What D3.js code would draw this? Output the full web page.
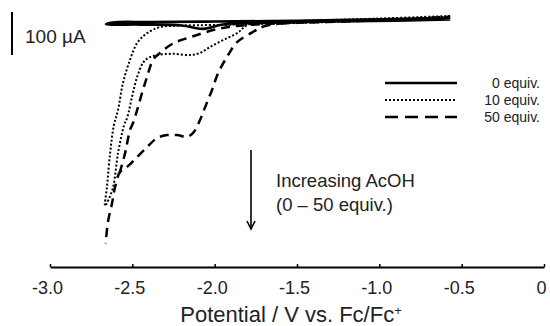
<!DOCTYPE html>
<html>
<head>
<meta charset="utf-8">
<script src="https://cdn.jsdelivr.net/npm/d3@7"></script>
<style>
  body { margin: 0; background: #fff; }
  text { font-family: "Liberation Sans", Arial, sans-serif; fill: #222; }
</style>
</head>
<body>
<div id="app"></div>
<script>
const W = 550, H = 326;

// potential (V vs Fc/Fc+), current (uA, cathodic negative)
const equiv0 = [
  [-0.57, 6], [-0.9, 3], [-1.3, 1], [-1.7, -2], [-1.95, -6], [-2.07, -16], [-2.2, -8],
  [-2.45, -6], [-2.66, -5], [-2.62, -1], [-2.4, 0], [-2.0, 1], [-1.5, 3], [-1.0, 6], [-0.57, 10]
];
const equiv10 = [
  [-0.57, 14], [-1.0, 8], [-1.5, 2], [-1.79, -5], [-1.864, -26], [-1.949, -42], [-2.028, -58],
  [-2.089, -72], [-2.149, -77], [-2.253, -74], [-2.35, -77], [-2.405, -84], [-2.435, -95],
  [-2.471, -128], [-2.502, -174], [-2.53, -221], [-2.55, -240], [-2.587, -305], [-2.617, -384],
  [-2.654, -421], [-2.666, -428],
  [-2.654, -384], [-2.635, -305], [-2.612, -240], [-2.587, -205], [-2.557, -142], [-2.514, -88],
  [-2.471, -49], [-2.411, -26], [-2.332, -12], [-2.2, -8], [-2.0, -7], [-1.7, -4], [-1.2, 1],
  [-0.8, 7], [-0.57, 13]
];
// 50 equiv: forward scan down to the switching potential, return branch leaves from the kink
const equiv50Fwd = [
  [-0.57, 10], [-1.0, 4], [-1.5, 0], [-1.7, -10], [-1.767, -23], [-1.864, -47], [-1.925, -81],
  [-1.979, -119], [-2.016, -158], [-2.058, -198], [-2.089, -228], [-2.131, -258], [-2.168, -267],
  [-2.228, -263], [-2.289, -263], [-2.35, -270], [-2.411, -291], [-2.471, -314], [-2.532, -337],
  [-2.575, -349], [-2.605, -384], [-2.623, -421], [-2.648, -465], [-2.662, -515]
];
const equiv50Rev = [
  [-2.578, -352], [-2.544, -305], [-2.514, -251], [-2.496, -235],
  [-2.471, -205], [-2.441, -165], [-2.411, -128], [-2.374, -88], [-2.332, -72], [-2.253, -50],
  [-2.13, -33], [-1.967, -15], [-1.8, -7], [-1.5, -2], [-1.0, 4], [-0.57, 12]
];

const xTicks = [-3.0, -2.5, -2.0, -1.5, -1.0, -0.5, 0];
const xTickLabels = ["-3.0", "-2.5", "-2.0", "-1.5", "-1.0", "-0.5", "0"];
const legendLabels = ["0 equiv.", "10 equiv.", "50 equiv."];

const x = d3.scaleLinear().domain([-3, 0]).range([50, 544]);
const y = d3.scaleLinear().domain([-500, 0]).range([237, 22]);

const svg = d3.select("#app").append("svg")
    .attr("width", W)
    .attr("height", H);

const styles = [
  { width: 2.6, dash: null, legendDash: null },
  { width: 2, dash: "2,2", legendDash: "2,2" },
  { width: 2.5, dash: "9,6", legendDash: "13,7" }
];

const line = d3.line().x(d => x(d[0])).y(d => y(d[1])).curve(d3.curveCatmullRom.alpha(0.5));

const traces = [
  { data: equiv0, s: 0 },
  { data: equiv10, s: 1 },
  { data: equiv50Fwd, s: 2 },
  { data: equiv50Rev, s: 2 }
];

svg.selectAll("path.cv")
  .data(traces)
  .join("path")
    .classed("cv", true)
    .attr("d", d => line(d.data))
    .attr("fill", "none")
    .attr("stroke", "#000")
    .attr("stroke-width", d => styles[d.s].width)
    .attr("stroke-dasharray", d => styles[d.s].dash);

// x axis, ticks pointing up
const axis = d3.axisBottom(x)
    .tickValues(xTicks)
    .tickFormat((d, i) => xTickLabels[i])
    .tickSizeInner(-3)
    .tickSizeOuter(0)
    .tickPadding(14);

const gx = svg.append("g").attr("transform", "translate(0,267)").call(axis);
gx.select(".domain").attr("stroke", "#000").attr("stroke-width", 2);
gx.selectAll(".tick line").attr("stroke", "#000").attr("stroke-width", 1.5);
gx.selectAll(".tick text")
    .attr("font-size", 18)
    .attr("dx", -3)
    .style("font-family", "'Liberation Sans', Arial, sans-serif")
    .attr("fill", "#222");

svg.append("text")
    .attr("x", 291).attr("y", 322)
    .attr("text-anchor", "middle")
    .attr("font-size", 22)
    .html("Potential / V vs. Fc/Fc<tspan baseline-shift='super' font-size='13'>+</tspan>");

// scale bar
svg.append("line")
    .attr("x1", 12).attr("x2", 12)
    .attr("y1", 12).attr("y2", 12 + (y(-100) - y(0)))
    .attr("stroke", "#000").attr("stroke-width", 2);
svg.append("text")
    .attr("x", 25).attr("y", 43)
    .attr("font-size", 19)
    .text("100 \u00b5A");

// legend
const lg = svg.append("g");
legendLabels.forEach((lab, i) => {
  const ly = 83 + i * 17;
  lg.append("line")
    .attr("x1", 385).attr("x2", 457)
    .attr("y1", ly).attr("y2", ly)
    .attr("stroke", "#000")
    .attr("stroke-width", styles[i].width)
    .attr("stroke-dasharray", styles[i].legendDash);
  lg.append("text")
    .attr("x", 540).attr("y", ly + 5)
    .attr("text-anchor", "end")
    .attr("font-size", 14)
    .text(lab);
});

// arrow + annotation
svg.append("line")
    .attr("x1", 251).attr("x2", 251)
    .attr("y1", 150).attr("y2", 229)
    .attr("stroke", "#000").attr("stroke-width", 1.6);
svg.append("path")
    .attr("d", "M247,221 L251,229 L255,221")
    .attr("fill", "none").attr("stroke", "#000").attr("stroke-width", 1.6);

svg.append("text")
    .attr("x", 276).attr("y", 187)
    .attr("font-size", 18.5)
    .text("Increasing AcOH");
svg.append("text")
    .attr("x", 276).attr("y", 211)
    .attr("font-size", 18.5)
    .text("(0 \u2013 50 equiv.)");
</script>
</body>
</html>
